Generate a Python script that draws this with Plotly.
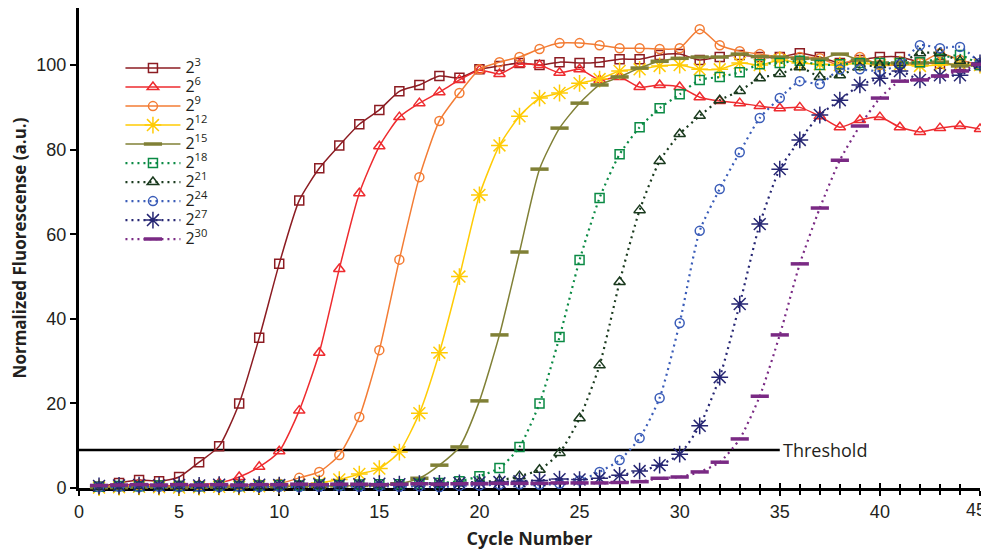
import plotly.graph_objects as go

cycles = list(range(1, 46))

series_labels = ["2<sup>3</sup>", "2<sup>6</sup>", "2<sup>9</sup>", "2<sup>12</sup>", "2<sup>15</sup>",
                 "2<sup>18</sup>", "2<sup>21</sup>", "2<sup>24</sup>", "2<sup>27</sup>", "2<sup>30</sup>"]

s_2_3 = [0.3, 1.2, 1.9, 1.6, 2.6, 6.1, 9.9, 20, 35.5, 53, 68, 75.6, 81, 86, 89.4, 93.8, 95.3, 97.4, 97, 99,
         99.8, 100.5, 100, 100.7, 100.5, 100.7, 101.4, 101.4, 102.4, 102.6, 101.2, 101.9, 102.4, 101.9, 101.9,
         102.8, 101.9, 100.5, 101.2, 101.9, 101.9, 100.7, 100.3, 100, 100]
s_2_6 = [0.2, 0.5, 1.0, 0.6, 0.5, 0.8, 1.2, 2.6, 5.0, 8.7, 18.3, 32, 51.8, 69.7, 80.8, 87.7, 91, 93.6, 96.5, 98.8,
         97.9, 100.2, 100, 98.2, 99, 96.5, 97.2, 94.8, 95.3, 94.8, 92.4, 91.5, 91, 90.3, 89.8, 90, 87.9, 85.3,
         87, 87.7, 85.3, 84.2, 85.1, 85.6, 84.9]
s_2_9 = [0.2, 0.4, 0.6, 0.5, 0.3, 0.4, 0.6, 0.7, 0.8, 1.0, 2.4, 3.8, 7.8, 16.8, 32.6, 54, 73.5, 86.8, 93.4, 99,
         100.7, 101.9, 103.8, 105.2, 105.2, 104.7, 104, 104, 103.8, 104, 108.5, 104.7, 103.3, 102.6, 101.9,
         101.9, 101.6, 100, 101.9, 100, 100, 100.5, 102.8, 101.2, 100]
s_2_12 = [0.1, 0.2, 0.3, 0.2, 0.1, 0.2, 0.3, 0.3, 0.4, 0.5, 0.8, 1.2, 2.0, 3.3, 4.6, 8.5, 17.7, 32, 50, 69.3,
          81, 87.9, 92.2, 93.4, 95.7, 96.7, 98.6, 99, 99.8, 100, 99, 99, 100.5, 100, 101.2, 100.5, 100.2, 100,
          100.5, 100, 100.2, 99.8, 100, 100.2, 100]
s_2_15 = [0.1, 0.1, 0.2, 0.2, 0.1, 0.2, 0.2, 0.3, 0.3, 0.3, 0.4, 0.4, 0.5, 0.6, 0.7, 1.0, 2.3, 5.4, 9.7, 20.6,
          36.2, 55.8, 75.4, 85.1, 91, 95.3, 97.2, 99.3, 100.9, 101.6, 101.9, 101.9, 102.6, 102, 101.9, 101.6,
          101.4, 102.6, 101.2, 100.5, 100.5, 100.5, 100.7, 99.8, 100]
s_2_18 = [0.3, 0.5, 0.4, 0.6, 0.5, 0.4, 0.6, 0.5, 0.6, 0.7, 0.6, 0.8, 0.7, 0.8, 0.9, 0.9, 1.0, 1.2, 1.6, 2.8,
          4.7, 9.7, 20, 35.7, 53.9, 68.6, 78.9, 85.3, 89.8, 93.1, 96.5, 97.2, 98.3, 100.2, 100.5, 101, 100,
          100.2, 100.5, 100.5, 100.5, 100.7, 101.5, 102.4, 100]
s_2_21 = [0.3, 0.4, 0.5, 0.4, 0.5, 0.6, 0.5, 0.6, 0.5, 0.6, 0.7, 0.6, 0.7, 0.8, 0.7, 0.8, 1.0, 1.0, 1.2, 1.4,
          1.8, 2.8, 4.3, 8.3, 16.5, 29, 48.7, 65.7, 77.3, 83.7, 88, 91.7, 93.9, 96.9, 97.9, 99.5, 97.2, 97.6,
          99.5, 100, 100.5, 102.8, 102.8, 101, 100]
s_2_24 = [0.2, 0.3, 0.2, 0.3, 0.2, 0.3, 0.2, 0.3, 0.2, 0.3, 0.2, 0.3, 0.4, 0.3, 0.4, 0.3, 0.4, 0.2, 0.5, 0.6,
          0.8, 0.9, 0.8, 1.0, 1.8, 3.8, 6.6, 11.8, 21.3, 39, 60.8, 70.7, 79.4, 87.5, 92.2, 96.2, 95.5, 99, 99,
          98.6, 100.2, 104.7, 104, 104.3, 100.5]
s_2_27 = [0.5, 0.6, 0.7, 0.6, 0.7, 0.6, 0.8, 0.7, 0.8, 0.7, 0.8, 0.9, 0.8, 0.9, 1.0, 0.9, 1.0, 1.1, 1.2, 1.3,
          1.4, 1.6, 1.8, 2.1, 2.0, 2.3, 3.0, 4.0, 5.4, 8.0, 14.7, 26.2, 43.5, 62.4, 75.4, 82.3, 88.2, 91.7,
          95.3, 96.9, 98.6, 96.5, 97.6, 97.6, 100.5]
s_2_30 = [0.6, 0.7, 0.8, 0.7, 0.8, 0.7, 0.8, 0.7, 0.8, 0.8, 0.9, 0.8, 0.9, 0.9, 0.8, 0.9, 1.0, 0.9, 1.0, 1.0,
          1.1, 1.1, 1.1, 1.2, 1.2, 1.2, 1.3, 1.5, 2.3, 2.6, 3.8, 6.1, 11.6, 21.7, 36.2, 53, 66.2, 77.5, 85.6,
          92.2, 96.2, 96.5, 97.4, 98.6, 100.2]

series_values = [s_2_3, s_2_6, s_2_9, s_2_12, s_2_15, s_2_18, s_2_21, s_2_24, s_2_27, s_2_30]

threshold_value = 9.0
threshold_end_cycle = 35

x_ticks = [0, 5, 10, 15, 20, 25, 30, 35, 40, 45]
x_tick_labels = ["0", "5", "10", "15", "20", "25", "30", "35", "40", "45"]
y_ticks = [0, 20, 40, 60, 80, 100]

colors = ["#8c1c22", "#ee2b2f", "#f37c34", "#ffcb05", "#808036",
          "#0a8a44", "#1a3a1e", "#3a5cb8", "#262673", "#7a2a84"]
symbols = ["square-open", "triangle-up-open", "circle-open", "asterisk-open", "line-ew-open",
           "square-open", "triangle-up-open", "circle-open", "asterisk-open", "line-ew-open"]
sizes = [9, 10, 9, 14, 13, 9, 10, 9, 14, 13]
mwidth = [1.5, 1.5, 1.5, 1.5, 3.5, 1.5, 1.5, 1.5, 1.5, 3.5]
dashes = ["solid"] * 5 + ["2px,4px"] * 5
lwidth = [1.5] * 5 + [2.2] * 5

tick_font = dict(family="Liberation Sans", size=18, color="#231f20")

fig = go.Figure()
for label, vals, c, sym, sz, mw, d, lw in zip(series_labels, series_values, colors, symbols, sizes,
                                               mwidth, dashes, lwidth):
    fig.add_trace(go.Scatter(
        x=cycles, y=vals,
        name='<span style="font-size:16px">' + label + '</span>',
        mode="lines+markers",
        line=dict(color=c, width=lw, dash=d, shape="spline", smoothing=0.6),
        marker=dict(symbol=sym, size=sz, color=c, line=dict(color=c, width=mw)),
        cliponaxis=False,
    ))

fig.add_shape(type="line", x0=0, x1=threshold_end_cycle, y0=threshold_value, y1=threshold_value,
              xref="x", yref="y", line=dict(color="black", width=2.5), layer="below")
fig.add_annotation(x=threshold_end_cycle, y=threshold_value, xref="x", yref="y", text="Threshold",
                   showarrow=False, xanchor="left", yanchor="middle", xshift=1,
                   font=dict(family="Open Sans", size=18, color="#231f20"))

# the page body adds an 8px offset, so the figure is sized/margined to land the plot area where
# the reference has it (x 79..980, y 8..488 in the window)
fig.update_layout(
    width=981, height=544,
    margin=dict(l=71, r=9, t=0, b=64, autoexpand=False),
    paper_bgcolor="white", plot_bgcolor="white",
    showlegend=True,
    legend=dict(x=0.046, y=0.905, xanchor="left", yanchor="top",
                font=dict(family="Open Sans", size=12, color="#231f20"),
                bgcolor="rgba(0,0,0,0)", tracegroupgap=0, itemwidth=55),
    xaxis=dict(range=[0, 45], tickvals=x_ticks, ticktext=x_tick_labels[:-1] + [""],
               ticks="outside", ticklen=5, tickwidth=2,
               tickcolor="black", showline=True, linecolor="black", linewidth=3, showgrid=False,
               zeroline=False, layer="below traces", automargin=False, ticklabeloverflow="allow",
               minor=dict(dtick=1, ticks="outside", ticklen=4, tickwidth=2, tickcolor="black"),
               tickfont=tick_font,
               title=dict(text="<b>Cycle Number</b>", standoff=12,
                          font=dict(family="Open Sans", size=18, color="#231f20"))),
    xaxis2=dict(range=[0, 45], overlaying="x", anchor="y", side="bottom", tickvals=x_ticks,
                ticks="inside", ticklen=5, tickwidth=2, tickcolor="black", showticklabels=False,
                showline=False, showgrid=False, zeroline=False, layer="below traces", automargin=False,
                minor=dict(dtick=1, ticks="inside", ticklen=4, tickwidth=2, tickcolor="black")),
    # carries only the last x tick label, nudged left so it stays inside the window
    xaxis3=dict(range=[0, 45], overlaying="x", anchor="y", side="bottom",
                tickvals=x_ticks[-1:], ticktext=x_tick_labels[-1:], ticks="outside", ticklen=5,
                tickcolor="rgba(0,0,0,0)", tickwidth=2, ticklabelshift=-4, ticklabeloverflow="allow",
                tickfont=tick_font, showline=False, showgrid=False, zeroline=False,
                automargin=False),
    yaxis=dict(range=[0, 113.5], tickvals=y_ticks, ticks="outside", ticklen=6, tickwidth=2,
               tickcolor="black", showline=True, linecolor="black", linewidth=3, showgrid=False,
               zeroline=False, layer="below traces", automargin=False, ticklabeloverflow="allow",
               tickfont=tick_font,
               title=dict(text="<b>Normalized Fluorescense (a.u.)</b>", standoff=10,
                          font=dict(family="Open Sans", size=17, color="#231f20"))),
)

# invisible traces to activate the overlay axes
for ax in ["x2", "x3"]:
    fig.add_trace(go.Scatter(x=[0], y=[0], xaxis=ax, mode="markers", marker=dict(opacity=0),
                             showlegend=False, hoverinfo="skip"))

fig.write_html("out.html")
